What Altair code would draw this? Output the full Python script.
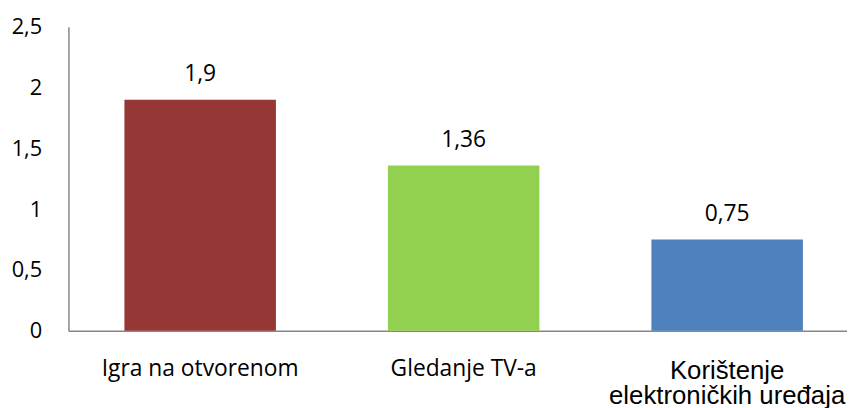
import altair as alt
import pandas as pd

categories = ["Igra na otvorenom", "Gledanje TV-a", "Korištenje|elektroničkih uređaja"]
values = [1.9, 1.36, 0.75]
value_labels = ["1,9", "1,36", "0,75"]
colors = ["#953735", "#92D050", "#4F81BD"]
y_ticks = [0, 0.5, 1, 1.5, 2, 2.5]

df = pd.DataFrame({"cat": categories, "val": values, "lab": value_labels, "col": colors})

is_third = "indexof(datum.value, 'Kori') >= 0"

x = alt.X("cat:N", sort=categories, title=None,
          scale=alt.Scale(range=[0, 798], paddingInner=0.425, paddingOuter=0.2125),
          axis=alt.Axis(labelAngle=0, ticks=False, domainColor="#868686", domainWidth=1.5,
                        labelExpr="split(datum.label, '|')", labelLimit=0,
                        labelFontSize={"condition": {"test": is_third, "value": 26}, "value": 23},
                        labelFont={"condition": {"test": is_third, "value": "Liberation Sans"}, "value": "Open Sans"},
                        labelColor="#000000", labelPadding=27, labelLineHeight=25, labelBaseline="top"))

y = alt.Y("val:Q", title=None, scale=alt.Scale(domain=[0, 2.5], nice=False),
          axis=alt.Axis(values=y_ticks, ticks=False, grid=False,
                        domainColor="#868686", domainWidth=1.5,
                        labelExpr="replace(toString(datum.value), '.', ',')",
                        labelFont="Open Sans", labelFontSize=22, labelColor="#000000", labelPadding=27))

bars = alt.Chart(df).mark_bar().encode(
    x=x,
    y=y,
    color=alt.Color("col:N", scale=None),
)

text = alt.Chart(df).mark_text(font="Open Sans", fontSize=23, color="#000000", baseline="alphabetic", dy=-19).encode(
    x=x,
    y=y,
    text="lab:N",
)

chart = (bars + text).properties(
    width=786, height=307,
    autosize=alt.AutoSizeParams(type="none"),
    padding={"left": 61, "top": 17, "right": 0, "bottom": 76},
).configure_view(stroke=None)

chart.save("out.html", embed_options={"renderer": "svg", "actions": False})
